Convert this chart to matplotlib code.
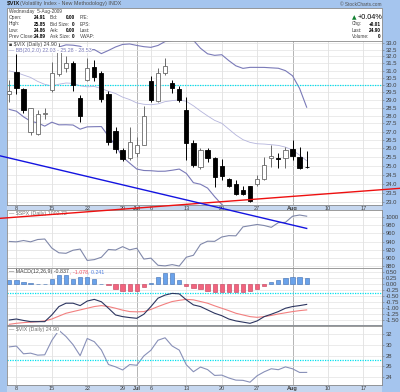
import numpy as np
import pandas as pd
import matplotlib
matplotlib.use("Agg")
import matplotlib.pyplot as plt
from matplotlib.patches import Rectangle
from matplotlib.ticker import NullLocator

plt.rcParams["font.family"] = ["Liberation Sans", "DejaVu Sans"]

# ---------------- data ----------------
opens = [29.38, 30.87, 29.74, 26.95, 26.85, 28.10, 29.67, 30.76, 31.20, 31.55,
         29.15, 30.35, 31.27, 30.80, 29.40, 27.05, 25.90, 25.42, 25.70, 26.20,
         30.28, 28.95, 30.80, 30.15, 29.75, 28.35, 26.30, 24.90, 25.90, 25.42,
         25.00, 24.27, 24.00, 23.68, 23.86, 24.00, 24.27, 25.45, 25.45, 25.45,
         25.95, 25.50, 24.91]
highs = [30.35, 32.20, 29.80, 28.50, 28.35, 28.50, 31.60, 33.00, 32.00, 31.70,
         29.30, 31.90, 31.75, 31.00, 29.60, 27.30, 26.00, 27.30, 26.70, 28.60,
         30.60, 31.20, 31.90, 30.35, 29.90, 29.20, 26.50, 26.00, 26.00, 25.50,
         25.40, 24.30, 24.20, 23.90, 23.90, 24.45, 25.50, 26.20, 25.75, 26.05,
         26.50, 26.10, 25.85]
lows = [28.85, 29.40, 28.13, 26.80, 26.80, 27.75, 29.50, 30.60, 30.90, 29.60,
        27.60, 30.25, 30.30, 28.90, 26.20, 25.70, 25.25, 25.30, 25.50, 26.20,
        28.90, 28.90, 30.70, 29.45, 28.90, 25.32, 24.90, 24.80, 25.20, 23.84,
        24.20, 23.80, 23.40, 23.40, 23.04, 23.90, 24.20, 24.90, 24.85, 24.85,
        25.30, 24.80, 24.86]
closes = [29.62, 29.77, 28.34, 28.46, 28.09, 28.15, 30.81, 32.68, 31.54, 30.03,
          27.99, 31.17, 30.58, 29.05, 26.36, 25.93, 25.35, 26.35, 26.22, 27.95,
          29.00, 30.85, 31.30, 29.78, 29.02, 26.31, 25.02, 25.89, 25.42, 24.34,
          24.40, 23.87, 23.47, 23.43, 23.09, 24.28, 25.01, 25.57, 25.40, 25.92,
          25.57, 24.89, 24.90]
# closes before the visible window (for the 20-day Bollinger Bands)
prior_closes = [32.05, 31.80, 31.80, 33.55, 32.12, 33.12, 30.24, 29.90, 30.45, 31.35,
                32.63, 30.01, 31.94, 29.93, 28.92, 30.18, 29.54, 30.63, 29.69]
spx = [940.09, 939.14, 942.43, 939.15, 944.89, 946.21, 923.72, 911.97, 910.71, 918.37,
       921.23, 893.04, 895.10, 900.94, 920.26, 918.90, 927.23, 919.32, 923.33, 896.42,
       898.72, 881.03, 879.56, 882.68, 879.13, 901.05, 905.84, 932.68, 940.74, 940.38,
       951.13, 954.58, 954.07, 976.29, 979.26, 982.18, 979.62, 975.15, 986.75, 987.48,
       1002.63, 1005.65, 1002.72]
macd = [-1.49, -1.45, -1.51, -1.56, -1.56, -1.56, -1.28, -0.93, -0.79, -0.79,
        -0.89, -0.70, -0.63, -0.73, -1.00, -1.28, -1.35, -1.39, -1.42, -1.25,
        -0.93, -0.58, -0.45, -0.38, -0.40, -0.65, -0.86, -0.93, -1.07, -1.21,
        -1.31, -1.45, -1.53, -1.58, -1.63, -1.53, -1.35, -1.25, -1.14, -1.00,
        -0.93, -0.89, -0.84]
signal = [-1.67, -1.63, -1.60, -1.58, -1.56, -1.53, -1.45, -1.33, -1.21, -1.14,
          -1.07, -1.00, -0.93, -0.89, -0.93, -1.00, -1.08, -1.14, -1.15, -1.14,
          -1.05, -0.93, -0.82, -0.72, -0.67, -0.63, -0.65, -0.72, -0.79, -0.90,
          -1.00, -1.10, -1.21, -1.28, -1.35, -1.38, -1.35, -1.30, -1.24, -1.19,
          -1.14, -1.10, -1.07]
hist = [0.17, 0.17, 0.10, 0.07, 0.03, 0.03, 0.21, 0.38, 0.38, 0.24,
        0.31, 0.31, 0.24, 0.01, -0.01, -0.18, -0.29, -0.29, -0.28, -0.12,
        0.07, 0.29, 0.49, 0.49, 0.19, -0.07, -0.15, -0.21, -0.26, -0.31,
        -0.32, -0.32, -0.32, -0.31, -0.28, -0.21, -0.07, 0.10, 0.18, 0.26,
        0.31, 0.29, 0.28]
# trendlines: (day index, value) end points
red_trend_x, red_trend_y = [-1.31, 55.2], [22.19, 23.75]
blue_trend_x, blue_trend_y = [-1.31, 42.0], [25.56, 21.69]
main_hline, macd_hline, vix_hline = 30.0, -0.35, 27.2

main_ticks = [23.0, 23.5, 24.0, 24.5, 25.0, 25.5, 26.0, 26.5, 27.0, 27.5, 28.0,
              28.5, 29.0, 29.5, 30.0, 30.5, 31.0, 31.5, 32.0, 32.5, 33.0]
spx_ticks = [880, 900, 920, 940, 960, 980, 1000]
macd_ticks = [-1.50, -1.25, -1.00, -0.75, -0.50, -0.25, 0.00, 0.25, 0.50]
vix_ticks = [24, 26, 28, 30, 32]

# trading calendar (Jul 3 holiday) incl. future blank days
days = pd.bdate_range("2009-06-05", "2009-08-21")
days = days[days != pd.Timestamp("2009-07-03")]

# ---------------- layout helpers ----------------
W, H = 400, 392
FRAME = "#a5c5ee"
fig = plt.figure(figsize=(W / 100, H / 100), dpi=100, facecolor=FRAME)


def fx(px):
    return px / W


def fy(py):
    return 1 - py / H


def add_ax(x0, y0, x1, y1):
    return fig.add_axes([fx(x0), fy(y1), (x1 - x0) / W, (y1 - y0) / H])


def fig_rect(x0, y0, x1, y1, **kw):
    r = Rectangle((fx(x0), fy(y1)), (x1 - x0) / W, (y1 - y0) / H,
                  transform=fig.transFigure, zorder=-1, **kw)
    fig.patches.append(r)


ticks, labels, month_ticks = [], [], []
for k, d in enumerate(days):
    if k > 0 and d.month != days[k - 1].month:
        ticks.append(k); labels.append(d.strftime("%b")); month_ticks.append(k)
    elif d.weekday() == 0:
        ticks.append(k); labels.append(str(d.day))

XL = (-0.33, 52.64)
n = len(closes)
x = np.arange(n)
o, h, l, c = map(np.array, (opens, highs, lows, closes))
TXT = "#404040"
LBL = 4.2
HF = 3.4
LF = 3.8


def style(ax, yt, fmt, ylim, log=False):
    if log:
        ax.set_yscale("log")
    ax.set_xlim(*XL)
    ax.set_ylim(*ylim)
    ax.yaxis.tick_right()
    ax.set_yticks(yt)
    ax.set_yticklabels([fmt.format(v) for v in yt])
    ax.yaxis.set_minor_locator(NullLocator())
    ax.tick_params(axis="y", labelsize=LBL, colors="#707070", labelcolor=TXT,
                   length=1.5, width=0.4, pad=1)
    ax.grid(axis="y", color="#e3e3e3", lw=0.5)
    ax.set_axisbelow(True)
    for k in ticks:
        ax.axvline(k, color="#a8a8a8" if k in month_ticks else "#e0e0e0",
                   lw=0.6, zorder=0)
    ax.set_xticks(ticks)
    for s in ax.spines.values():
        s.set_color("#8a8a8a"); s.set_linewidth(0.6)


def date_labels(ax, show):
    if show:
        ax.set_xticklabels(labels)
        ax.tick_params(axis="x", length=0, pad=0.5, labelsize=4.0, labelcolor=TXT)
        for t, lab in zip(ax.get_xticklabels(), labels):
            if not lab.isdigit():
                t.set_fontweight("bold")
    else:
        ax.tick_params(axis="x", length=0, labelbottom=False)


# ---------------- header ----------------
fig.text(fx(7), fy(3.3), "$VIX", fontsize=4.4, fontweight="bold", color="#202020", va="center")
fig.text(fx(20), fy(3.3), "(Volatility Index - New Methodology) INDX", fontsize=3.9,
         color="#505050", va="center")
fig.text(fx(382), fy(4.5), "© StockCharts.com", fontsize=3.4, color="#505050",
         va="center", ha="right")
fig_rect(7, 8, 382, 40.5, fc="white", ec="#8a8a8a", lw=0.6)
fig.text(fx(9), fy(11.5), "Wednesday  5-Aug-2009", fontsize=HF, color=TXT, va="center")
rows_y = [17.5, 24, 30.5, 36.8]
col1 = ["Open:", "High:", "Low:", "Prev Close:"]
val1 = ["24.91", "25.85", "24.86", "24.89"]
col2 = ["Bid:", "Bid Size:", "Ask:", "Ask Size:"]
val2 = ["0.00", "0", "0.00", "0"]
col3 = ["P/E:", "EPS:", "Last:", "VWAP:"]
for yy, a, b, cc, d, e in zip(rows_y, col1, val1, col2, val2, col3):
    fig.text(fx(9), fy(yy), a, fontsize=HF, color=TXT, va="center")
    fig.text(fx(46), fy(yy), b, fontsize=HF, color="black", va="center", ha="right",
             fontweight="bold")
    fig.text(fx(50), fy(yy), cc, fontsize=HF, color=TXT, va="center")
    fig.text(fx(75), fy(yy), d, fontsize=HF, color="black", va="center", ha="right",
             fontweight="bold")
    fig.text(fx(80), fy(yy), e, fontsize=HF, color=TXT, va="center")
fig.text(fx(354), fy(17.3), "▲", fontsize=4.2, color="#108030", va="center", ha="center",
         family="DejaVu Sans")
fig.text(fx(382), fy(17.3), "+0.04%", fontsize=5.2, color="black", va="center", ha="right")
for yy, a, b in zip(rows_y[1:], ["Chg:", "Last:", "Volume:"], ["+0.01", "24.90", "0"]):
    fig.text(fx(352), fy(yy), a, fontsize=HF, color=TXT, va="center")
    fig.text(fx(381), fy(yy), b, fontsize=HF, color="black", va="center", ha="right",
             fontweight="bold")

# date strips
fig_rect(7, 205, 382, 210, fc="#c6d7ef", ec="none")
fig_rect(7, 385, 382, 392, fc="#c6d7ef", ec="none")

# ---------------- main price panel ----------------
ax1 = add_ax(7, 41, 382, 205)
style(ax1, main_ticks, "{:.1f}", (22.87, 33.14), log=True)
date_labels(ax1, True)

allc = pd.Series(prior_closes + closes)
mid = allc.rolling(20).mean().to_numpy()[len(prior_closes):]
sd = allc.rolling(20).std(ddof=0).to_numpy()[len(prior_closes):]
up_bb, lo_bb = mid + 2 * sd, mid - 2 * sd
ax1.plot(x, mid, color="#b4b4dc", lw=0.6, zorder=2)
ax1.plot(x, up_bb, color="#7a7ab8", lw=0.8, zorder=2)
ax1.plot(x, lo_bb, color="#7a7ab8", lw=0.8, zorder=2)
ax1.axhline(main_hline, color="#00e0ee", lw=0.9, ls=(0, (1, 1)), zorder=2)

up = c >= o
HOL = "#6a6a6a"
ax1.vlines(x[up], l[up], h[up], color=HOL, lw=0.7, zorder=3)
ax1.vlines(x[~up], l[~up], h[~up], color="black", lw=0.7, zorder=3)
blo, bhi = np.minimum(o, c), np.maximum(o, c)
ax1.bar(x[up], bhi[up] - blo[up], bottom=blo[up], width=0.6, color="white",
        edgecolor=HOL, lw=0.6, zorder=4)
ax1.bar(x[~up], bhi[~up] - blo[~up], bottom=blo[~up], width=0.6, color="black",
        edgecolor="black", lw=0.6, zorder=4)

ax1.text(0.006, 0.992, "■ $VIX (Daily) 24.90", transform=ax1.transAxes, fontsize=LF,
         color=TXT, va="top", ha="left", zorder=6,
         bbox=dict(fc="white", ec="none", pad=0.3))
ax1.text(0.006, 0.958, "— BB(20,2.0) {:.2f} - {:.2f} - {:.2f}".format(lo_bb[-1], mid[-1], up_bb[-1]),
         transform=ax1.transAxes, fontsize=LF, color="#7a7ab8", va="top", ha="left",
         zorder=6, bbox=dict(fc="white", ec="none", pad=0.3))

# ---------------- SPX panel ----------------
ax2 = add_ax(7, 210, 382, 268)
style(ax2, spx_ticks, "{:d}", (874.3, 1018.1))
date_labels(ax2, False)
ax2.plot(x, spx, color="#8088aa", lw=0.8)
ax2.text(0.006, 0.975, "— $SPX (Daily) 1002.72", transform=ax2.transAxes, fontsize=LF,
         color="#707070", va="top", ha="left", bbox=dict(fc="white", ec="none", pad=0.3))

# ---------------- MACD panel ----------------
ax3 = add_ax(7, 268, 382, 325)
style(ax3, macd_ticks, "{:.2f}", (-1.70, 0.68))
date_labels(ax3, False)
hv = np.array(hist)
ax3.bar(x[hv >= 0], hv[hv >= 0], width=0.6, color="#6aa2ea", edgecolor="#3c6cb0",
        lw=0.4, zorder=2)
ax3.bar(x[hv < 0], hv[hv < 0], width=0.6, color="#f2647e", edgecolor="#c03c58",
        lw=0.4, zorder=2)
ax3.axhline(macd_hline, color="#00e0ee", lw=0.9, ls=(0, (1, 1)), zorder=2)
ax3.plot(x, signal, color="#f28080", lw=0.8, zorder=3)
ax3.plot(x, macd, color="#2c3560", lw=0.8, zorder=4)
t = ax3.text(0.006, 0.975, "— MACD(12,26,9) -0.837", transform=ax3.transAxes,
             fontsize=LF, color="#404040", va="top", ha="left")
fig.canvas.draw()
inv = ax3.transAxes.inverted()
xa = inv.transform((t.get_window_extent().x1 + 0.5, 0))[0]
t2 = ax3.text(xa, 0.975, ", -1.078", transform=ax3.transAxes, fontsize=LF,
              color="#f05060", va="top", ha="left")
fig.canvas.draw()
xb = inv.transform((t2.get_window_extent().x1 + 0.5, 0))[0]
ax3.text(xb, 0.975, ", 0.241", transform=ax3.transAxes, fontsize=LF,
         color="#5080e0", va="top", ha="left")

# ---------------- VIX line panel ----------------
ax4 = add_ax(7, 326, 382, 385)
style(ax4, vix_ticks, "{:d}", (22.57, 33.48))
date_labels(ax4, True)
ax4.plot(x, closes, color="#8890b8", lw=0.8)
ax4.axhline(vix_hline, color="#00e0ee", lw=0.9, ls=(0, (1, 1)), zorder=2)
ax4.text(0.006, 0.975, "— $VIX (Daily) 24.90", transform=ax4.transAxes, fontsize=LF,
         color="#707070", va="top", ha="left", bbox=dict(fc="white", ec="none", pad=0.3))

# ---------------- trendlines overlay ----------------
axo = add_ax(7, 41, 382, 205)
axo.set_yscale("log")
axo.set_xlim(*XL)
axo.set_ylim(22.87, 33.14)
axo.axis("off")
axo.patch.set_visible(False)
axo.plot(red_trend_x, red_trend_y, color="#ee1010", lw=1.0, clip_on=False)
axo.plot(blue_trend_x, blue_trend_y, color="#1414e0", lw=1.0, clip_on=False)

fig.savefig("out.png", dpi=100, facecolor=FRAME)
